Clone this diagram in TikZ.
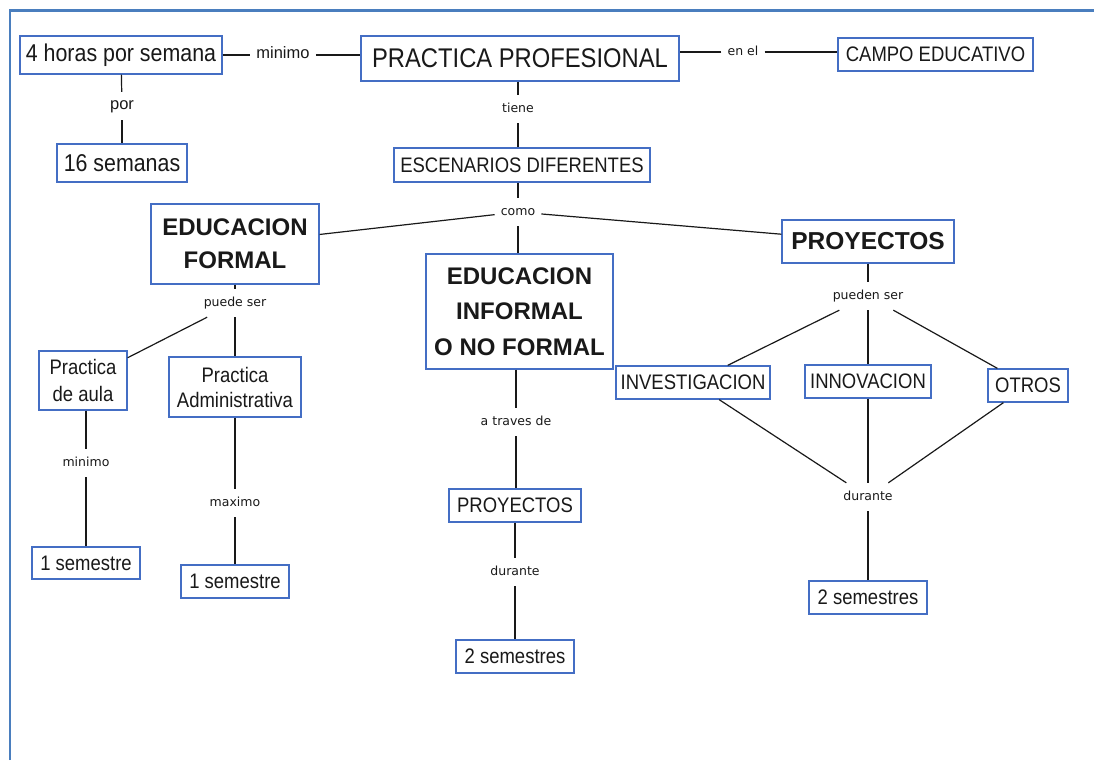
\documentclass[tikz,border=0pt]{standalone}
\usepackage{fontspec}
\setmainfont{Liberation Sans}
\newfontfamily\boxfont[FakeStretch=0.88]{Liberation Sans}
\newfontfamily\boldfont{Liberation Sans}
\newfontfamily\linkfont{DejaVu Sans}
\definecolor{frameblue}{RGB}{74,126,190}
\definecolor{boxblue}{RGB}{68,110,196}
\definecolor{ink}{RGB}{25,25,25}
\begin{document}
\begin{tikzpicture}[x=1pt,y=-1pt,
  box/.style={draw=boxblue, line width=1.3pt, fill=white, inner sep=0pt, text=ink, align=center},
  reg/.style={font=\boxfont\fontsize{21}{25}\selectfont},
  big/.style={font=\boxfont\fontsize{24.3}{28}\selectfont},
  bld/.style={font=\boldfont\bfseries\fontsize{24}{33}\selectfont},
  lnk/.style={inner xsep=6pt, inner ysep=0pt, text height=9pt, text depth=2.5pt, minimum height=28pt, text=ink, font=\linkfont\fontsize{12.5}{14}\selectfont},
  lnkbig/.style={lnk, font=\setmainfont{Liberation Sans}\fontsize{16.5}{18}\selectfont},
  conn/.style={draw=ink, line width=1.2pt}]
\useasboundingbox (0,0) rectangle (1094,760);
\draw[frameblue, line width=2.2pt] (10,760) -- (10,10.5) -- (1094,10.5);

% boxes
\node[box, big, minimum width=202pt, minimum height=38pt] (horas) at (121,55) {4 horas por semana};
\node[box, big, minimum width=130pt, minimum height=38pt] (sem16) at (122,163) {16 semanas};
\node[box, font=\boxfont\fontsize{27}{30}\selectfont, minimum width=318pt, minimum height=45pt] (pp) at (520,58.5) {PRACTICA PROFESIONAL};
\node[box, reg, minimum width=195pt, minimum height=33pt] (campo) at (935.5,54.5) {CAMPO EDUCATIVO};
\node[box, reg, minimum width=256pt, minimum height=34pt] (esc) at (522,165) {ESCENARIOS DIFERENTES};
\node[box, bld, minimum width=168pt, minimum height=80pt] (ef) at (235,244) {EDUCACION\\FORMAL};
\node[box, font=\boldfont\bfseries\fontsize{24}{35.5}\selectfont, minimum width=187pt, minimum height=115pt] (ei) at (519.5,311.5) {EDUCACION\\INFORMAL\\O NO FORMAL};
\node[box, font=\boldfont\bfseries\fontsize{24.5}{28}\selectfont, minimum width=172pt, minimum height=43pt] (proyb) at (868,241.5) {PROYECTOS};
\node[box, font=\boxfont\fontsize{21}{27}\selectfont, minimum width=88pt, minimum height=59pt] (pda) at (83,380.5) {Practica\\de aula};
\node[box, font=\boxfont\fontsize{21}{25}\selectfont, minimum width=132pt, minimum height=60pt] (pad) at (235,387) {Practica\\Administrativa};
\node[box, reg, minimum width=108pt, minimum height=32pt] (semA) at (86,563) {1 semestre};
\node[box, reg, minimum width=108pt, minimum height=33pt] (semB) at (235,581.5) {1 semestre};
\node[box, reg, minimum width=132pt, minimum height=33pt] (proys) at (515,505.5) {PROYECTOS};
\node[box, reg, minimum width=118pt, minimum height=33pt] (semC) at (515,656.5) {2 semestres};
\node[box, reg, minimum width=154pt, minimum height=33pt] (inv) at (693,382.5) {INVESTIGACION};
\node[box, reg, minimum width=126pt, minimum height=33pt] (inn) at (868,381.5) {INNOVACION};
\node[box, reg, minimum width=80pt, minimum height=33pt] (otros) at (1028,385.5) {OTROS};
\node[box, reg, minimum width=118pt, minimum height=33pt] (semD) at (868,597.5) {2 semestres};

% link labels
\node[lnkbig] (minT) at (283,55) {minimo};
\node[lnkbig] (porL) at (122,106) {por};
\node[lnk] (tiene) at (518,109) {tiene};
\node[lnk] (enel) at (743,52) {en el};
\node[lnk] (como) at (518,212) {como};
\node[lnk] (puede) at (235,303) {puede ser};
\node[lnk] (minL) at (86,463) {minimo};
\node[lnk] (maxi) at (235,503) {maximo};
\node[lnk] (atra) at (516,422) {a traves de};
\node[lnk] (durA) at (515,572) {durante};
\node[lnk] (pueden) at (868,296) {pueden ser};
\node[lnk] (durB) at (868,497) {durante};

% connectors
\draw[conn] (horas) -- (minT);
\draw[conn] (minT) -- (minT -| pp.west);
\draw[conn] (horas) -- (porL);
\draw[conn] (porL) -- (sem16);
\draw[conn] (enel) -- (enel -| pp.east);
\draw[conn] (enel) -- (enel -| campo.west);
\draw[conn] (tiene |- pp.south) -- (tiene);
\draw[conn] (tiene) -- (tiene |- esc.north);
\draw[conn] (como |- esc.south) -- (como);
\draw[conn] (como) -- (ef);
\draw[conn] (como) -- (proyb);
\draw[conn] (como) -- (como |- ei.north);
\draw[conn] (ef) -- (puede);
\draw[conn] (puede) -- (pda);
\draw[conn] (puede) -- (pad);
\draw[conn] (minL |- pda.south) -- (minL);
\draw[conn] (minL) -- (semA);
\draw[conn] (pad) -- (maxi);
\draw[conn] (maxi) -- (semB);
\draw[conn] (atra |- ei.south) -- (atra);
\draw[conn] (atra) -- (atra |- proys.north);
\draw[conn] (proys) -- (durA);
\draw[conn] (durA) -- (semC);
\draw[conn] (proyb) -- (pueden);
\draw[conn] (pueden) -- (inv);
\draw[conn] (pueden) -- (inn);
\draw[conn] (pueden) -- (otros);
\draw[conn] (inv) -- (durB);
\draw[conn] (inn) -- (durB);
\draw[conn] (otros) -- (durB);
\draw[conn] (durB) -- (semD);
\end{tikzpicture}
\end{document}
